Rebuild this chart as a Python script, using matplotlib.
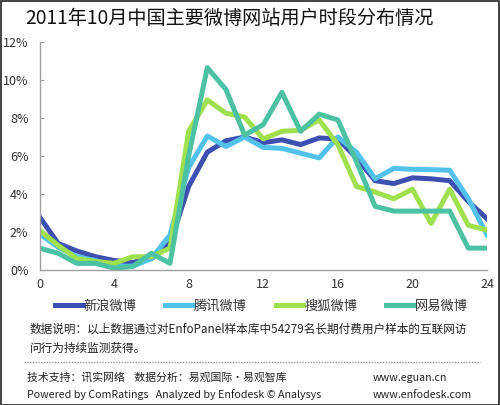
import matplotlib
matplotlib.use("Agg")
import matplotlib.pyplot as plt
from matplotlib.lines import Line2D
from matplotlib.patches import Rectangle

plt.rcParams['font.family'] = ['Noto Sans CJK SC', 'DejaVu Sans']

hours = list(range(25))
series_names = ["新浪微博", "腾讯微博", "搜狐微博", "网易微博"]
sina = [2.8, 1.4, 1.0, 0.7, 0.5, 0.4, 0.6, 1.4, 4.4, 6.2, 6.8, 7.0, 6.7, 6.85, 6.6, 6.95, 6.9, 5.9, 4.7, 4.55, 4.85, 4.8, 4.7, 3.6, 2.7]
tencent = [1.9, 1.2, 0.7, 0.5, 0.2, 0.2, 0.6, 1.85, 5.4, 7.05, 6.5, 7.0, 6.45, 6.4, 6.15, 5.9, 7.0, 6.2, 4.8, 5.35, 5.3, 5.28, 5.25, 3.75, 1.85]
sohu = [2.1, 1.3, 0.6, 0.45, 0.35, 0.7, 0.7, 1.15, 7.3, 8.95, 8.25, 8.05, 6.9, 7.3, 7.35, 7.9, 6.6, 4.4, 4.1, 3.75, 4.25, 2.45, 4.25, 2.35, 2.1]
netease = [1.15, 0.88, 0.35, 0.35, 0.1, 0.18, 0.88, 0.35, 6.0, 10.65, 9.5, 7.1, 7.65, 9.35, 7.3, 8.2, 7.9, 5.7, 3.35, 3.1, 3.1, 3.1, 3.1, 1.15, 1.15]
colors = ["#3e4fb2", "#52c2ea", "#9fe04e", "#4cc2a2"]
x_ticks = [0, 4, 8, 12, 16, 20, 24]
y_ticks = [0, 2, 4, 6, 8, 10, 12]
y_tick_labels = ["0%", "2%", "4%", "6%", "8%", "10%", "12%"]

W, H = 500, 405
fig = plt.figure(figsize=(W / 100, H / 100), dpi=100)
ax = fig.add_axes([39.5 / W, 1 - 270 / H, (487 - 39.5) / W, (270 - 42) / H])

for name, vals, c in zip(series_names, [sina, tencent, sohu, netease], colors):
    ax.plot(hours, vals, color=c, lw=3.6, label=name, solid_joinstyle='round')

ax.set_xlim(0, 24)
ax.set_ylim(0, 12)
ax.set_xticks(x_ticks)
ax.set_yticks(y_ticks)
ax.set_yticklabels(y_tick_labels)
for s in ['top', 'right']:
    ax.spines[s].set_visible(False)
for s in ['left', 'bottom']:
    ax.spines[s].set_color('#a0a0a0')
    ax.spines[s].set_linewidth(1.0)
ax.tick_params(axis='y', direction='in', length=3, color='#a0a0a0', labelsize=9, labelcolor='#333333', pad=8)
ax.tick_params(axis='x', length=0, labelsize=9, labelcolor='#333333', pad=6)

leg = fig.legend(loc='center left', bbox_to_anchor=(55 / W, 1 - 306 / H), ncol=4,
                 frameon=False, fontsize=9.5, handlelength=2.1, handletextpad=0.05,
                 columnspacing=2.2, borderaxespad=0, borderpad=0)
for t in leg.get_texts():
    t.set_color('#333333')

fig.text(25 / W, 1 - 18 / H, "2011年10月中国主要微博网站用户时段分布情况", fontsize=13.8,
         color='#111111', va='center', ha='left')
fig.text(30 / W, 1 - 329 / H, "数据说明：以上数据通过对EnfoPanel样本库中54279名长期付费用户样本的互联网访",
         fontsize=8.4, color='#222222', va='center', ha='left')
fig.text(30 / W, 1 - 348 / H, "问行为持续监测获得。", fontsize=8.4, color='#222222', va='center', ha='left')
fig.add_artist(Line2D([24 / W, 480 / W], [1 - 362 / H, 1 - 362 / H], color='#999999', lw=1.0,
                      linestyle=(0, (1, 1))))
fig.text(27 / W, 1 - 378 / H, "技术支持：讯实网络    数据分析：易观国际·易观智库", fontsize=7.8,
         color='#222222', va='center', ha='left')
fig.text(27 / W, 1 - 395 / H, "Powered by ComRatings   Analyzed by Enfodesk © Analysys", fontsize=7.7,
         color='#222222', va='center', ha='left')
fig.text(373 / W, 1 - 378 / H, "www.eguan.cn", fontsize=7.7, color='#222222', va='center', ha='left')
fig.text(373 / W, 1 - 395 / H, "www.enfodesk.com", fontsize=7.7, color='#222222', va='center', ha='left')

fig.add_artist(Rectangle((0.5 / W, 0.5 / H), 1 - 1.5 / W, 1 - 1.5 / H, transform=fig.transFigure,
                         fill=False, edgecolor='#222222', lw=1.2))

fig.savefig("out.png", dpi=100)
